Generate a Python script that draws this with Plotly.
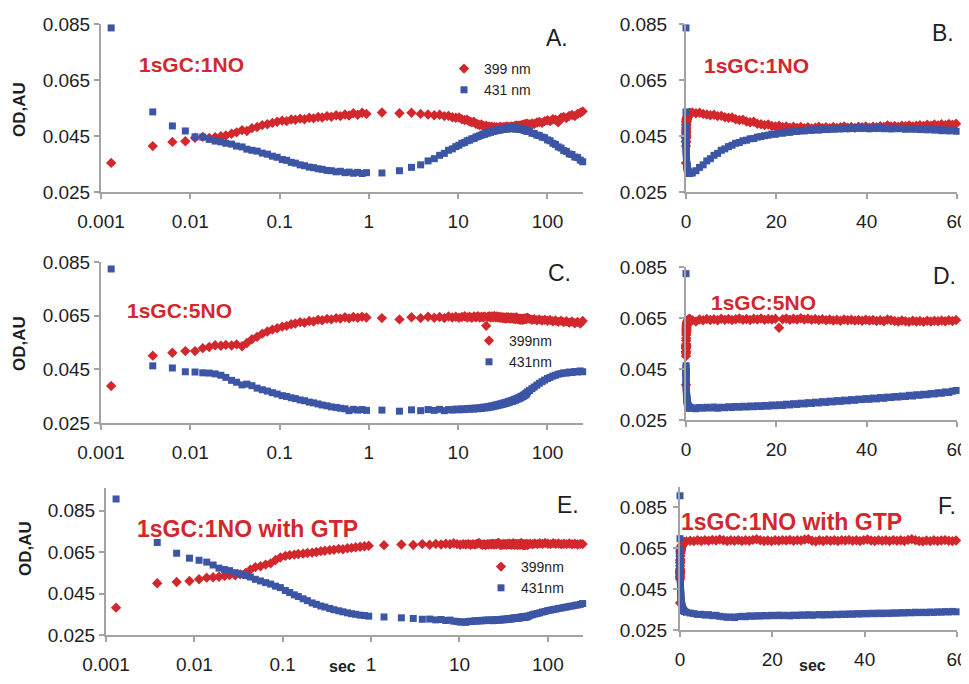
import numpy as np
import plotly.graph_objects as go

# ---------------- data ----------------
# sampling times (s), shared by all three experiments
T = [
    0.0013, 0.0038, 0.0063, 0.0088, 0.0113, 0.0138, 0.0163, 0.019, 0.022, 0.025,
    0.029, 0.033, 0.038, 0.043, 0.049, 0.056, 0.064, 0.073, 0.083, 0.094,
    0.107, 0.12, 0.135, 0.15, 0.17, 0.19, 0.215, 0.24, 0.27, 0.3,
    0.34, 0.38, 0.43, 0.48, 0.54, 0.6, 0.67, 0.75, 0.84, 0.94,
    1.4, 2.2, 3.0, 3.8, 4.6, 5.4, 6.2, 7.0, 7.8, 8.6,
    9.4, 10.2, 11.0, 11.8, 12.6, 13.4, 14.2, 15.0, 15.8, 16.6,
    17.4, 18.2, 19.0, 19.8, 20.6, 21.4, 22.2, 23.0, 23.8, 24.6,
    25.4, 26.2, 27.0, 27.8, 28.6, 29.4, 30.2, 31.0, 31.8, 32.6,
    33.4, 34.2, 35.0, 35.8, 36.6, 37.4, 38.2, 39.0, 39.8, 40.6,
    41.4, 42.2, 43.0, 43.8, 44.6, 45.4, 46.2, 47.0, 47.8, 48.6,
    49.4, 50.2, 51.0, 51.8, 52.6, 53.4, 54.2, 55.0, 55.8, 56.6,
    57.4, 58.2, 59.0, 59.8,
    63, 67, 71, 76, 81, 87, 93, 100, 107, 115,
    123, 132, 142, 152, 163, 175, 188, 202, 217, 233,
    248,
]

# 1sGC:1NO
NO1_399 = [
    0.0354, 0.0414, 0.0429, 0.0431, 0.0444, 0.0447, 0.0443, 0.0446, 0.0449, 0.0452,
    0.0458, 0.0463, 0.0471, 0.0468, 0.0478, 0.0482, 0.0489, 0.0492, 0.0497, 0.0501,
    0.0505, 0.0503, 0.0509, 0.0508, 0.0512, 0.0510, 0.0515, 0.0513, 0.0518, 0.0516,
    0.0521, 0.0519, 0.0524, 0.0521, 0.0527, 0.0523, 0.0531, 0.0526, 0.0533, 0.0529,
    0.0534, 0.0531, 0.0533, 0.0529, 0.0527, 0.0524, 0.0526, 0.0521, 0.0522, 0.0517,
    0.0515, 0.0516, 0.0510, 0.0507, 0.0508, 0.0502, 0.0499, 0.0501, 0.0494, 0.0492,
    0.0489, 0.0491, 0.0486, 0.0484, 0.0487, 0.0482, 0.0484, 0.0480, 0.0483, 0.0479,
    0.0482, 0.0478, 0.0481, 0.0477, 0.0480, 0.0483, 0.0479, 0.0481, 0.0478, 0.0482,
    0.0479, 0.0481, 0.0484, 0.0480, 0.0482, 0.0479, 0.0483, 0.0481, 0.0484, 0.0480,
    0.0483, 0.0481, 0.0485, 0.0482, 0.0488, 0.0484, 0.0486, 0.0483, 0.0487, 0.0485,
    0.0488, 0.0484, 0.0487, 0.0489, 0.0486, 0.0490, 0.0487, 0.0491, 0.0488, 0.0492,
    0.0489, 0.0493, 0.0490, 0.0494,
    0.0491, 0.0495, 0.0493, 0.0498, 0.0500, 0.0497, 0.0503, 0.0506, 0.0503, 0.0510,
    0.0508, 0.0499, 0.0515, 0.0518, 0.0514, 0.0522, 0.0525, 0.0521, 0.0529, 0.0533,
    0.0538,
]
NO1_431 = [
    0.0836, 0.0536, 0.0486, 0.0468, 0.0447, 0.0446, 0.0438, 0.0432, 0.0429, 0.0424,
    0.0421, 0.0414, 0.0411, 0.0403, 0.0399, 0.0396, 0.0389, 0.0385, 0.0378, 0.0374,
    0.0366, 0.0363, 0.0356, 0.0353, 0.0347, 0.0344, 0.0339, 0.0337, 0.0333, 0.0331,
    0.0327, 0.0326, 0.0322, 0.0324, 0.0319, 0.0321, 0.0317, 0.0320, 0.0316, 0.0319,
    0.0318, 0.0326, 0.0338, 0.0347, 0.0361, 0.0369, 0.0381, 0.0388, 0.0399, 0.0404,
    0.0412, 0.0417, 0.0424, 0.0427, 0.0433, 0.0435, 0.0440, 0.0441, 0.0446, 0.0448,
    0.0451, 0.0453, 0.0457, 0.0456, 0.0461, 0.0460, 0.0464, 0.0463, 0.0467, 0.0466,
    0.0469, 0.0468, 0.0472, 0.0470, 0.0473, 0.0471, 0.0475, 0.0473, 0.0476, 0.0474,
    0.0477, 0.0475, 0.0478, 0.0476, 0.0479, 0.0477, 0.0480, 0.0477, 0.0479, 0.0476,
    0.0479, 0.0477, 0.0480, 0.0476, 0.0478, 0.0475, 0.0478, 0.0476, 0.0477, 0.0474,
    0.0477, 0.0474, 0.0476, 0.0473, 0.0475, 0.0472, 0.0475, 0.0471, 0.0473, 0.0469,
    0.0472, 0.0468, 0.0471, 0.0467,
    0.0466, 0.0460, 0.0459, 0.0453, 0.0452, 0.0446, 0.0444, 0.0436, 0.0433, 0.0424,
    0.0420, 0.0411, 0.0407, 0.0398, 0.0395, 0.0386, 0.0384, 0.0375, 0.0373, 0.0364,
    0.0358,
]

# 1sGC:5NO
NO5_399 = [
    0.0388, 0.0501, 0.0512, 0.0518, 0.0518, 0.0529, 0.0533, 0.0540, 0.0538, 0.0541,
    0.0539, 0.0543, 0.0536, 0.0548, 0.0562, 0.0571, 0.0583, 0.0591, 0.0598, 0.0603,
    0.0609, 0.0612, 0.0618, 0.0621, 0.0626, 0.0624, 0.0630, 0.0628, 0.0635, 0.0633,
    0.0638, 0.0636, 0.0641, 0.0639, 0.0644, 0.0640, 0.0645, 0.0642, 0.0646, 0.0643,
    0.0641, 0.0636, 0.0644, 0.0641, 0.0646, 0.0642, 0.0645, 0.0641, 0.0647, 0.0643,
    0.0646, 0.0642, 0.0645, 0.0648, 0.0643, 0.0646, 0.0642, 0.0647, 0.0644, 0.0648,
    0.0643, 0.0646, 0.0644, 0.0647, 0.0612, 0.0645, 0.0648, 0.0643, 0.0647, 0.0644,
    0.0649, 0.0644, 0.0647, 0.0643, 0.0646, 0.0642, 0.0645, 0.0641, 0.0644, 0.0640,
    0.0643, 0.0639, 0.0644, 0.0641, 0.0643, 0.0640, 0.0642, 0.0639, 0.0643, 0.0640,
    0.0642, 0.0638, 0.0641, 0.0637, 0.0644, 0.0641, 0.0638, 0.0636, 0.0640, 0.0637,
    0.0635, 0.0639, 0.0636, 0.0638, 0.0635, 0.0639, 0.0636, 0.0639, 0.0637, 0.0640,
    0.0637, 0.0641, 0.0638, 0.0642,
    0.0638, 0.0635, 0.0637, 0.0633, 0.0636, 0.0632, 0.0635, 0.0631, 0.0634, 0.0629,
    0.0632, 0.0627, 0.0631, 0.0626, 0.0629, 0.0624, 0.0628, 0.0622, 0.0627, 0.0621,
    0.0630,
]
NO5_431 = [
    0.0824, 0.0463, 0.0455, 0.0441, 0.0440, 0.0437, 0.0436, 0.0433, 0.0428, 0.0420,
    0.0409, 0.0402, 0.0392, 0.0395, 0.0389, 0.0380, 0.0374, 0.0369, 0.0363, 0.0358,
    0.0352, 0.0349, 0.0344, 0.0341, 0.0336, 0.0333, 0.0328, 0.0325, 0.0321, 0.0317,
    0.0314, 0.0310, 0.0308, 0.0305, 0.0303, 0.0296, 0.0301, 0.0298, 0.0300, 0.0297,
    0.0298, 0.0294, 0.0299, 0.0296, 0.0300, 0.0297, 0.0301, 0.0296, 0.0300, 0.0298,
    0.0302, 0.0299, 0.0303, 0.0300, 0.0304, 0.0301, 0.0305, 0.0302, 0.0306, 0.0303,
    0.0307, 0.0304, 0.0309, 0.0306, 0.0310, 0.0307, 0.0312, 0.0309, 0.0314, 0.0311,
    0.0316, 0.0313, 0.0318, 0.0315, 0.0320, 0.0317, 0.0322, 0.0319, 0.0324, 0.0321,
    0.0326, 0.0323, 0.0328, 0.0325, 0.0330, 0.0327, 0.0332, 0.0330, 0.0334, 0.0331,
    0.0336, 0.0333, 0.0338, 0.0335, 0.0340, 0.0338, 0.0342, 0.0340, 0.0344, 0.0342,
    0.0347, 0.0344, 0.0349, 0.0347, 0.0351, 0.0349, 0.0354, 0.0352, 0.0357, 0.0355,
    0.0360, 0.0358, 0.0363, 0.0366,
    0.0371, 0.0378, 0.0384, 0.0391, 0.0398, 0.0404, 0.0410, 0.0416, 0.0420, 0.0425,
    0.0428, 0.0432, 0.0434, 0.0437, 0.0436, 0.0440, 0.0438, 0.0442, 0.0440, 0.0444,
    0.0441,
]

# 1sGC:1NO with GTP
GTP_399 = [
    0.0382, 0.0500, 0.0506, 0.0511, 0.0519, 0.0527, 0.0529, 0.0531, 0.0536, 0.0540,
    0.0538, 0.0543, 0.0550, 0.0565, 0.0578, 0.0582, 0.0590, 0.0596, 0.0612, 0.0624,
    0.0632, 0.0636, 0.0638, 0.0641, 0.0643, 0.0646, 0.0648, 0.0651, 0.0655, 0.0657,
    0.0660, 0.0662, 0.0666, 0.0664, 0.0669, 0.0671, 0.0674, 0.0676, 0.0679, 0.0681,
    0.0684, 0.0687, 0.0685, 0.0689, 0.0686, 0.0690, 0.0687, 0.0691, 0.0688, 0.0693,
    0.0689, 0.0686, 0.0689, 0.0687, 0.0690, 0.0686, 0.0689, 0.0687, 0.0691, 0.0694,
    0.0689, 0.0686, 0.0688, 0.0685, 0.0689, 0.0687, 0.0690, 0.0688, 0.0691, 0.0687,
    0.0690, 0.0688, 0.0693, 0.0695, 0.0687, 0.0684, 0.0689, 0.0686, 0.0690, 0.0687,
    0.0689, 0.0686, 0.0690, 0.0688, 0.0691, 0.0687, 0.0689, 0.0686, 0.0690, 0.0693,
    0.0688, 0.0686, 0.0690, 0.0687, 0.0689, 0.0686, 0.0690, 0.0687, 0.0689, 0.0686,
    0.0691, 0.0694, 0.0689, 0.0686, 0.0684, 0.0688, 0.0685, 0.0689, 0.0686, 0.0688,
    0.0690, 0.0687, 0.0685, 0.0688,
    0.0691, 0.0688, 0.0692, 0.0689, 0.0693, 0.0690, 0.0694, 0.0691, 0.0689, 0.0693,
    0.0690, 0.0692, 0.0688, 0.0691, 0.0689, 0.0692, 0.0688, 0.0691, 0.0687, 0.0690,
    0.0689,
]
GTP_431 = [
    0.0907, 0.0697, 0.0645, 0.0621, 0.0611, 0.0602, 0.0588, 0.0573, 0.0566, 0.0561,
    0.0551, 0.0545, 0.0537, 0.0530, 0.0519, 0.0511, 0.0503, 0.0496, 0.0486, 0.0479,
    0.0465, 0.0455, 0.0444, 0.0436, 0.0425, 0.0416, 0.0405, 0.0398, 0.0390, 0.0385,
    0.0378, 0.0372, 0.0367, 0.0362, 0.0357, 0.0353, 0.0350, 0.0346, 0.0344, 0.0341,
    0.0337, 0.0333, 0.0330, 0.0326, 0.0327, 0.0323, 0.0325, 0.0320, 0.0322, 0.0317,
    0.0315, 0.0312, 0.0314, 0.0311, 0.0315, 0.0317, 0.0315, 0.0319, 0.0317, 0.0320,
    0.0318, 0.0321, 0.0319, 0.0322, 0.0320, 0.0323, 0.0320, 0.0322, 0.0319, 0.0323,
    0.0321, 0.0324, 0.0322, 0.0325, 0.0322, 0.0324, 0.0326, 0.0323, 0.0326, 0.0324,
    0.0327, 0.0325, 0.0328, 0.0326, 0.0329, 0.0327, 0.0330, 0.0328, 0.0331, 0.0329,
    0.0332, 0.0330, 0.0333, 0.0330, 0.0333, 0.0331, 0.0334, 0.0332, 0.0335, 0.0333,
    0.0336, 0.0334, 0.0337, 0.0335, 0.0337, 0.0335, 0.0338, 0.0336, 0.0339, 0.0337,
    0.0340, 0.0338, 0.0341, 0.0339,
    0.0345, 0.0348, 0.0351, 0.0354, 0.0357, 0.0361, 0.0364, 0.0368, 0.0370, 0.0373,
    0.0375, 0.0378, 0.0380, 0.0383, 0.0385, 0.0388, 0.0390, 0.0393, 0.0395, 0.0398,
    0.0402,
]

CONDITIONS = ["1sGC:1NO", "1sGC:5NO", "1sGC:1NO with GTP"]
LEGEND_NAMES = [("399 nm", "431 nm"), ("399nm", "431nm"), ("399nm", "431nm")]
PANEL_LETTERS = ["A.", "B.", "C.", "D.", "E.", "F."]
LOG_TICKS = [0.001, 0.01, 0.1, 1, 10, 100]
LOG_TICK_TEXT = ["0.001", "0.01", "0.1", "1", "10", "100"]
LIN_TICKS = [0, 20, 40, 60]
Y_TICKS = [0.025, 0.045, 0.065, 0.085]
Y_TICK_TEXT = ["0.025", "0.045", "0.065", "0.085"]

SERIES = [(NO1_399, NO1_431), (NO5_399, NO5_431), (GTP_399, GTP_431)]
for a, b in SERIES:
    assert len(a) == len(T) and len(b) == len(T), (len(a), len(b), len(T))

# ---------------- style / layout ----------------
OFF = 8  # page body margin in the browser
W, H = 969 - OFF, 684 - 2 * OFF
RED = "#d2282d"
BLUE = "#3c55a5"
AXC = "#a3a3a3"
FONT = "Liberation Sans, Arial, sans-serif"
TXT = "#1e1e1e"


def px(x):
    return (x - OFF) / W


def py(y):
    return 1 - (y - OFF) / H


# pixel boxes (page pixels): (left, right, top, bottom, ymax)
LEFT_BOX = [(101, 583, 24, 192, 0.085), (101, 583, 262, 423, 0.085), (106, 583, 488, 635, 0.096)]
RIGHT_BOX = [(686, 957, 24, 192, 0.085), (686, 957, 267, 420, 0.085), (680, 957, 487, 630, 0.095)]

t = np.array(T)
fig = go.Figure()
layout = dict(
    width=W, height=H, margin=dict(l=0, r=0, t=0, b=0, autoexpand=False),
    paper_bgcolor="white", plot_bgcolor="white", showlegend=True,
    font=dict(family=FONT, color=TXT),
)

legend_ids = ["legend", "legend2", "legend3"]
legend_pos = [(444, 53), (469, 325), (481, 551)]

for i in range(3):
    red, blue = np.array(SERIES[i][0]), np.array(SERIES[i][1])
    lx = "x" if i == 0 else f"x{2 * i + 1}"
    ly = "y" if i == 0 else f"y{2 * i + 1}"
    rx, ry = f"x{2 * i + 2}", f"y{2 * i + 2}"
    m = t <= 60
    for vals, col, sym, sz, name in [
        (red, RED, "diamond", 8, LEGEND_NAMES[i][0]),
        (blue, BLUE, "square", 7, LEGEND_NAMES[i][1]),
    ]:
        fig.add_trace(go.Scatter(
            x=t, y=vals, mode="markers", name=name, xaxis=lx, yaxis=ly,
            marker=dict(color=col, symbol=sym, size=sz, line=dict(width=0)),
            legend=legend_ids[i], cliponaxis=False, hoverinfo="skip"))
        fig.add_trace(go.Scatter(
            x=t[m], y=vals[m], mode="markers", name=name, xaxis=rx, yaxis=ry,
            marker=dict(color=col, symbol=sym, size=sz, line=dict(width=0)),
            showlegend=False, cliponaxis=False, hoverinfo="skip"))

    common_axis = dict(showline=True, linecolor=AXC, linewidth=2, ticks="outside",
                       tickcolor=AXC, tickwidth=2, ticklen=5, showgrid=False,
                       zeroline=False, automargin=False,
                       tickfont=dict(family=FONT, size=19, color=TXT))
    l0, l1, t0, b0, ymax = LEFT_BOX[i]
    r0, r1, t1, b1, ymax2 = RIGHT_BOX[i]
    lxk = "xaxis" if i == 0 else f"xaxis{2 * i + 1}"
    lyk = "yaxis" if i == 0 else f"yaxis{2 * i + 1}"
    layout[lxk] = dict(common_axis, type="log", range=[-3, np.log10(250)],
                       domain=[px(l0), px(l1)], anchor=ly,
                       tickvals=LOG_TICKS, ticktext=LOG_TICK_TEXT, ticklabelstandoff=6)
    layout[lyk] = dict(common_axis, range=[0.025, ymax], domain=[py(b0), py(t0)],
                       anchor=lx, tickvals=Y_TICKS, ticktext=Y_TICK_TEXT)
    layout[f"xaxis{2 * i + 2}"] = dict(common_axis, range=[0, 60], domain=[px(r0), px(r1)],
                                       anchor=ry, tickvals=LIN_TICKS, ticklabelstandoff=6)
    layout[f"yaxis{2 * i + 2}"] = dict(common_axis, range=[0.025, ymax2],
                                       domain=[py(b1), py(t1)], anchor=rx,
                                       tickvals=Y_TICKS, ticktext=Y_TICK_TEXT,
                                       ticklabelstandoff=(8 if i < 2 else 2))
    lgx, lgy = legend_pos[i]
    layout[legend_ids[i]] = dict(x=px(lgx), y=py(lgy), xanchor="left", yanchor="top",
                                 xref="paper", yref="paper", bgcolor="rgba(0,0,0,0)",
                                 font=dict(family=FONT, size=14, color=TXT),
                                 tracegroupgap=0, itemwidth=30, traceorder="normal")

ann = []
letter_pos = [(557, 38), (943, 33), (559, 273), (944, 276), (568, 505), (947, 506)]
for s, (x, y) in zip(PANEL_LETTERS, letter_pos):
    ann.append(dict(text=s, x=px(x), y=py(y), xref="paper", yref="paper", showarrow=False,
                    font=dict(family=FONT, size=23, color=TXT), xanchor="center", yanchor="middle"))

title_pos = [((191, 65), (756, 66), 21), ((179, 310), (763, 302), 21), ((247, 529), (791, 522), 23)]
for i, ((a, b), (c, d), fs) in enumerate(title_pos):
    for (x, y) in [(a, b), (c, d)]:
        ann.append(dict(text=f"<b>{CONDITIONS[i]}</b>", x=px(x), y=py(y), xref="paper",
                        yref="paper", showarrow=False, xanchor="center", yanchor="middle",
                        font=dict(family=FONT, size=fs, color=RED)))

for (x, y) in [(19, 110), (19, 344), (25, 549)]:
    ann.append(dict(text="<b>OD,AU</b>", x=px(x), y=py(y), xref="paper", yref="paper",
                    showarrow=False, textangle=-90, xanchor="center", yanchor="middle",
                    font=dict(family=FONT, size=17, color=TXT)))
for (x, y) in [(342, 666), (812, 665)]:
    ann.append(dict(text="<b>sec</b>", x=px(x), y=py(y), xref="paper", yref="paper",
                    showarrow=False, xanchor="center", yanchor="middle",
                    font=dict(family=FONT, size=16, color=TXT)))

layout["annotations"] = ann
fig.update_layout(**layout)
fig.write_html("out.html")
